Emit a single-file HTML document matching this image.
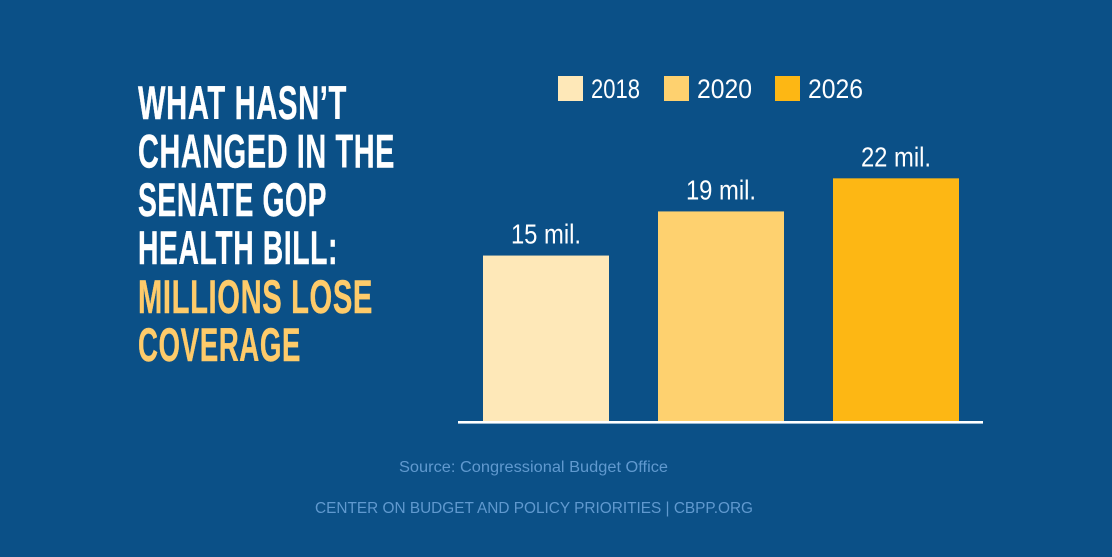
<!DOCTYPE html>
<html lang="en">
<head>
<meta charset="utf-8">
<title>What Hasn't Changed in the Senate GOP Health Bill</title>
<style>
  html, body { margin: 0; padding: 0; background: #0b5087; }
  svg { display: block; font-family: "Liberation Sans", sans-serif; }
</style>
</head>
<body>
<svg id="chart" xmlns="http://www.w3.org/2000/svg" width="1112" height="557" viewBox="0 0 1112 557">
  <rect x="0" y="0" width="1112" height="557" fill="#0b5087"/>

  <g font-weight="700" font-size="47.5" stroke-width="0.4" letter-spacing="1">
    <text x="138" y="119" textLength="209" lengthAdjust="spacingAndGlyphs" fill="#ffffff" stroke="#ffffff">WHAT HASN’T</text>
    <text x="138" y="167.5" textLength="257" lengthAdjust="spacingAndGlyphs" fill="#ffffff" stroke="#ffffff">CHANGED IN THE</text>
    <text x="138" y="216" textLength="189" lengthAdjust="spacingAndGlyphs" fill="#ffffff" stroke="#ffffff">SENATE GOP</text>
    <text x="138" y="264" textLength="200" lengthAdjust="spacingAndGlyphs" fill="#ffffff" stroke="#ffffff">HEALTH BILL:</text>
    <text x="138" y="313" textLength="235" lengthAdjust="spacingAndGlyphs" fill="#fecb6a" stroke="#fecb6a">MILLIONS LOSE</text>
    <text x="138" y="361" textLength="163" lengthAdjust="spacingAndGlyphs" fill="#fecb6a" stroke="#fecb6a">COVERAGE</text>
  </g>

  <g font-size="27" fill="#ffffff">
    <g>
      <rect x="558" y="76" width="25" height="25" fill="#fee8b8"/>
      <text x="591" y="98" textLength="49" lengthAdjust="spacingAndGlyphs">2018</text>
    </g>
    <g>
      <rect x="664" y="76" width="25" height="25" fill="#fed16f"/>
      <text x="697" y="98" textLength="55" lengthAdjust="spacingAndGlyphs">2020</text>
    </g>
    <g>
      <rect x="775" y="76" width="25" height="25" fill="#fdb714"/>
      <text x="808" y="98" textLength="55" lengthAdjust="spacingAndGlyphs">2026</text>
    </g>
  </g>

  <g id="bars"></g>
  <g id="value-labels"></g>

  <rect x="458" y="421" width="525" height="2.6" fill="#ffffff"/>

  <text x="399" y="472" font-size="15.5" textLength="269" lengthAdjust="spacingAndGlyphs" fill="#6099cf">Source: Congressional Budget Office</text>
  <text x="315" y="513" font-size="16" textLength="438" lengthAdjust="spacingAndGlyphs" fill="#6099cf">CENTER ON BUDGET AND POLICY PRIORITIES | CBPP.ORG</text>
</svg>

<script>
const categories = ["2018", "2020", "2026"];
const uninsuredMillions = [15, 19, 22];
const valueSuffix = " mil.";

const SVG_NS = "http://www.w3.org/2000/svg";
const plotBase = 421;
const pixelsPerMillion = 11.03;
const bandStart = 483;
const bandStep = 175;
const bandWidth = 126;
const barColors = ["#fee8b8", "#fed16f", "#fdb714"];

function xScale(index) {
  return bandStart + index * bandStep;
}
function yScale(value) {
  return plotBase - value * pixelsPerMillion;
}

const barLayer = document.getElementById("bars");
const labelLayer = document.getElementById("value-labels");

uninsuredMillions.forEach(function (value, i) {
  const bar = document.createElementNS(SVG_NS, "rect");
  
  
  bar.setAttribute("x", xScale(i));
  bar.setAttribute("y", yScale(value));
  bar.setAttribute("width", bandWidth);
  bar.setAttribute("height", plotBase - yScale(value));
  bar.setAttribute("fill", barColors[i % barColors.length]);
  barLayer.appendChild(bar);

  const label = document.createElementNS(SVG_NS, "text");
  
  
  label.setAttribute("x", xScale(i) + bandWidth / 2);
  label.setAttribute("y", yScale(value) - 12);
  label.setAttribute("text-anchor", "middle");
  label.setAttribute("font-size", "28");
  label.setAttribute("fill", "#ffffff");
  label.textContent = value + valueSuffix;
  labelLayer.appendChild(label);
  label.setAttribute("textLength", (label.getComputedTextLength() * 0.85).toFixed(1));
  label.setAttribute("lengthAdjust", "spacingAndGlyphs");
});
</script>
</body>
</html>
